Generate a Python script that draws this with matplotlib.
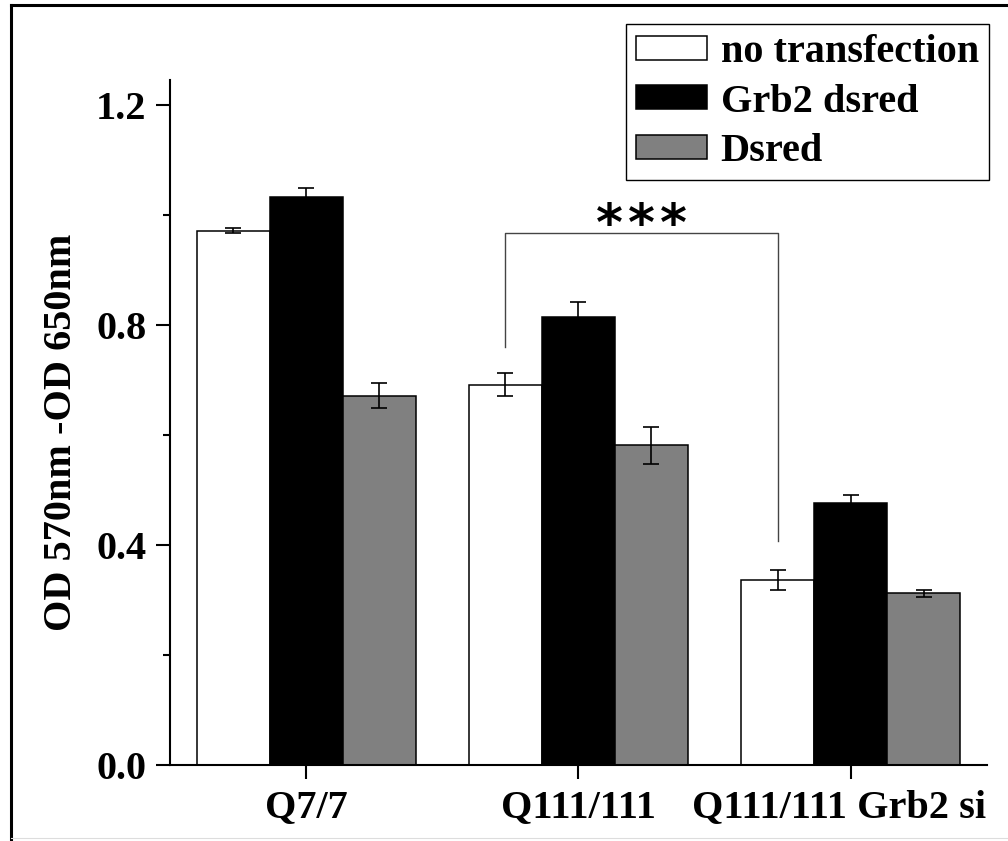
import matplotlib.pyplot as plt
from matplotlib.lines import Line2D
from matplotlib.transforms import ScaledTranslation
import numpy as np

# data
groups = ['Q7/7', 'Q111/111', 'Q111/111 Grb2 si']
series_names = ['no transfection', 'Grb2 dsred', 'Dsred']
no_transfection = [0.971, 0.691, 0.336]
no_transfection_err = [0.005, 0.021, 0.018]
grb2_dsred = [1.032, 0.815, 0.476]
grb2_dsred_err = [0.016, 0.026, 0.015]
dsred = [0.671, 0.581, 0.312]
dsred_err = [0.023, 0.034, 0.006]
bar_colors = ['white', 'black', '#808080']

# significance bracket between Q111/111 and Q111/111 Grb2 si (white bars)
bracket_left_low = 0.760
bracket_right_low = 0.407
bracket_top = 0.967
sig_mark = '*'

plt.rcParams['font.family'] = ['Liberation Serif', 'DejaVu Serif']
plt.rcParams['font.weight'] = 'bold'
plt.rcParams['axes.labelweight'] = 'bold'
plt.rcParams['font.size'] = 29


def plotBars():
    fig = plt.figure(figsize=(10.08, 8.41), dpi=100)
    ax = fig.add_axes([0.1687, 0.0904, 0.8103, 0.8145])

    x = np.arange(len(groups))
    width = 0.268
    values = [no_transfection, grb2_dsred, dsred]
    errors = [no_transfection_err, grb2_dsred_err, dsred_err]
    for i in range(3):
        xs = x + (i - 1) * width
        ax.bar(xs, values[i], width, color=bar_colors[i], edgecolor='black',
               linewidth=1.1, label=series_names[i], zorder=2)
        ax.errorbar(xs, values[i], yerr=errors[i], fmt='none', ecolor='black',
                    elinewidth=1.2, capsize=6, capthick=1.2, zorder=3)

    # bracket
    xl = x[1] - width
    xr = x[2] - width
    ax.plot([xl, xl, xr, xr], [bracket_left_low, bracket_top, bracket_top, bracket_right_low],
            color='#444444', linewidth=1.0, zorder=1)
    xm = (xl + xr) / 2
    for k in [-1, 0, 1]:
        ax.text(xm + k * 0.118, 0.955, sig_mark, ha='center', va='baseline',
                fontsize=37, family='DejaVu Sans', fontweight='bold')

    ax.set_xlim(-0.5, 2.5)
    ax.set_ylim(0, 1.245)
    ax.set_xticks(x)
    ax.set_xticklabels(groups)
    ax.set_yticks([0.0, 0.4, 0.8, 1.2])
    ax.set_yticks([0.2, 0.6, 1.0], minor=True)
    ax.yaxis.set_major_formatter(plt.FormatStrFormatter('%.1f'))
    ax.tick_params(axis='both', which='major', direction='out', length=10, width=1.5, pad=7)
    ax.tick_params(axis='y', which='minor', direction='out', length=5, width=1.5)
    ax.spines['top'].set_visible(False)
    ax.spines['right'].set_visible(False)
    ax.spines['left'].set_linewidth(1.5)
    ax.spines['bottom'].set_linewidth(1.5)
    # last label sits a little left of its tick in the original
    lab = ax.get_xticklabels()[2]
    lab.set_transform(lab.get_transform() + ScaledTranslation(-0.12, 0, fig.dpi_scale_trans))

    ax.set_ylabel('OD 570nm -OD 650nm')
    ax.yaxis.set_label_coords(-0.11, 0.486)

    leg = ax.legend(loc='upper right', bbox_to_anchor=(0.981, 0.9715),
                    bbox_transform=fig.transFigure, borderaxespad=0,
                    fancybox=False, framealpha=1, edgecolor='black',
                    handlelength=1.74, handleheight=0.55, handletextpad=0.35,
                    borderpad=0.25, labelspacing=0.31)
    leg.get_frame().set_linewidth(1.0)

    # outer frame (top and left edges of the original crop)
    fig.add_artist(Line2D([11 / 1008, 1], [1 - 5 / 841, 1 - 5 / 841],
                          transform=fig.transFigure, color='black', linewidth=2.2))
    fig.add_artist(Line2D([11 / 1008, 11 / 1008], [0, 1 - 5 / 841],
                          transform=fig.transFigure, color='black', linewidth=2.2))
    fig.add_artist(Line2D([11 / 1008, 1], [3 / 841, 3 / 841],
                          transform=fig.transFigure, color='#dddddd', linewidth=0.8))

    fig.savefig('out.png', dpi=100)


if __name__ == '__main__':
    plotBars()
